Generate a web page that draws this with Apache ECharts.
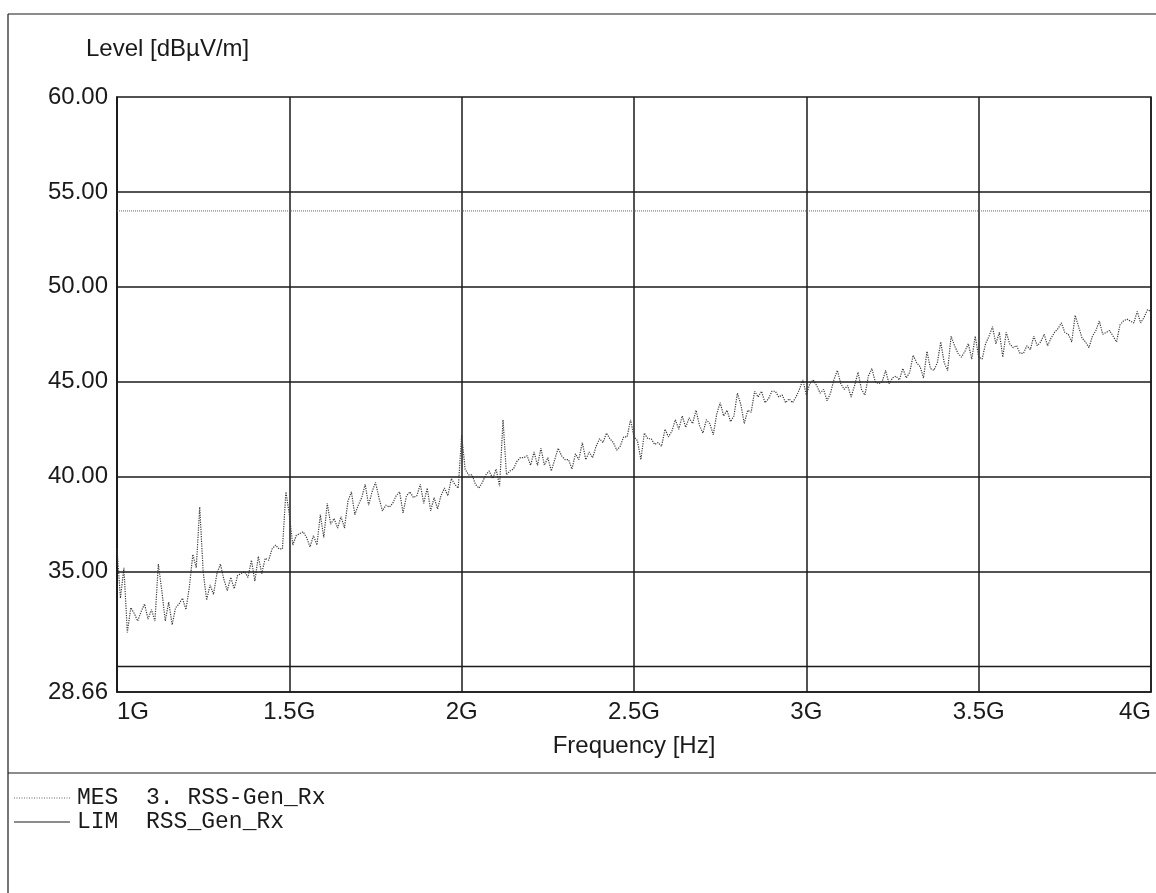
<!DOCTYPE html>
<html>
<head>
<meta charset="utf-8">
<title>RSS-Gen_Rx</title>
<script src="https://cdn.jsdelivr.net/npm/echarts@6/dist/echarts.min.js"></script>
<style>
  html, body { margin: 0; padding: 0; background: #fff; }
  #chart { width: 1156px; height: 893px; }
</style>
</head>
<body>
<div id="chart"></div>
<script>
// MES trace, one reading every 10 MHz from 1 GHz to 4 GHz
const startMHz = 1000
const stepMHz = 10
const mesLevel = [
  36.2, 33.6, 35.2, 31.8, 33.1, 32.8, 32.4, 32.9, 33.3, 32.5,
  33.0, 32.4, 35.4, 34.0, 32.4, 33.4, 32.2, 33.1, 33.3, 33.6,
  33.0, 34.2, 35.9, 35.2, 38.4, 35.0, 33.5, 34.3, 33.8, 34.9,
  35.4, 34.6, 34.0, 34.7, 34.1, 34.8, 34.9, 35.0, 34.7, 35.6,
  34.5, 35.8, 34.9, 35.7, 35.6, 36.2, 36.4, 36.2, 36.2, 39.2,
  38.0, 36.4, 36.9, 37.0, 37.1, 36.8, 36.3, 36.9, 36.4, 38.0,
  36.8, 38.6, 37.5, 37.8, 37.3, 37.9, 37.3, 38.7, 39.2, 38.0,
  38.5, 38.9, 39.6, 38.5, 39.2, 39.7, 38.9, 38.2, 38.5, 38.4,
  38.6, 39.0, 39.2, 38.1, 39.0, 39.2, 38.9, 39.0, 39.6, 38.6,
  39.4, 38.2, 38.9, 38.3, 39.0, 39.4, 39.0, 39.9, 39.6, 39.4,
  42.2, 40.4, 40.1, 40.1, 39.6, 39.4, 39.7, 40.1, 40.3, 39.9,
  40.4, 39.5, 43.0, 40.1, 40.3, 40.4, 40.8, 41.0, 41.0, 41.1,
  40.6, 41.3, 40.6, 41.5, 40.6, 41.0, 40.3, 40.9, 41.5, 41.1,
  40.9, 40.9, 40.4, 41.2, 40.9, 41.8, 40.9, 41.3, 41.0, 41.6,
  42.0, 41.8, 42.3, 42.0, 41.8, 41.4, 41.6, 42.1, 42.1, 43.0,
  42.1, 41.9, 40.9, 42.3, 42.0, 42.0, 41.7, 41.8, 41.6, 42.5,
  42.1, 42.4, 43.0, 42.5, 43.2, 42.6, 43.1, 42.8, 43.5, 42.7,
  42.3, 43.0, 42.8, 42.2, 43.3, 43.9, 43.2, 43.5, 42.9, 43.2,
  44.4, 43.8, 42.8, 43.5, 43.4, 44.5, 44.2, 44.5, 43.9, 44.1,
  44.5, 44.5, 44.2, 44.3, 43.9, 44.1, 43.9, 44.2, 44.6, 45.1,
  44.3, 44.9, 45.1, 44.8, 44.4, 44.6, 44.0, 44.4, 45.1, 45.6,
  44.9, 44.6, 44.8, 44.2, 44.8, 45.5, 44.6, 44.3, 45.3, 45.7,
  45.0, 44.9, 45.0, 45.6, 44.9, 45.2, 45.3, 45.1, 45.7, 45.2,
  45.5, 46.4, 46.0, 45.8, 45.2, 46.6, 45.7, 45.6, 46.0, 47.1,
  46.0, 45.6, 47.4, 46.9, 46.5, 46.3, 46.6, 47.0, 46.2, 47.4,
  46.3, 46.2, 47.0, 47.4, 47.9, 47.0, 47.6, 46.3, 47.6, 47.0,
  46.8, 46.9, 46.5, 46.5, 46.9, 46.7, 47.4, 46.9, 47.1, 47.5,
  46.9, 47.3, 47.6, 47.8, 48.1, 47.6, 47.5, 47.1, 48.5, 47.9,
  47.3, 47.1, 46.8, 47.4, 47.7, 48.2, 47.5, 47.6, 47.7, 47.4,
  47.1, 48.0, 48.2, 48.3, 48.2, 48.1, 48.7, 48.1, 48.4, 48.8, 48.7
]
// limit lines
const limFreq = [1e9, 4e9]
const limLevel = [30, 30]
const upperLevel = [54, 54]
// axes
const yMin = 28.66
const yMax = 60
const yTickLabels = [28.66, 35, 40, 45, 50, 55, 60]
const yGridLevels = [35, 40, 45, 50, 55]

const mesData = mesLevel.map((v, i) => [(startMHz + i * stepMHz) * 1e6, v])
const limData = limFreq.map((f, i) => [f, limLevel[i]])
const upperData = limFreq.map((f, i) => [f, upperLevel[i]])

const sans = '"Liberation Sans", Arial, sans-serif'
const mono = '"Liberation Mono", "Courier New", monospace'
const ink = '#1a1a1a'

const chart = echarts.init(document.getElementById('chart'))
chart.setOption({
  animation: false,
  backgroundColor: '#fff',
  grid: {
    left: 117,
    top: 97,
    right: 5,
    bottom: 201,
    show: true,
    borderColor: ink,
    borderWidth: 1.5
  },
  xAxis: {
    type: 'value',
    min: 1e9,
    max: 4e9,
    interval: 5e8,
    name: 'Frequency [Hz]',
    nameLocation: 'middle',
    nameGap: 42,
    nameTextStyle: { fontFamily: sans, fontSize: 24, color: ink },
    axisLine: { lineStyle: { color: ink, width: 1.5 } },
    axisTick: { show: false },
    axisLabel: {
      margin: 8,
      fontFamily: sans,
      fontSize: 24,
      color: ink,
      alignMinLabel: 'left',
      alignMaxLabel: 'right',
      formatter: v => (v / 1e9) + 'G'
    },
    splitLine: { show: true, lineStyle: { color: ink, width: 1.5 } }
  },
  yAxis: {
    type: 'value',
    min: yMin,
    max: yMax,
    axisLine: { show: true, lineStyle: { color: ink, width: 1.5 } },
    axisTick: { show: false },
    axisLabel: {
      margin: 9,
      fontFamily: sans,
      fontSize: 24,
      color: ink,
      customValues: yTickLabels,
      formatter: v => v.toFixed(2)
    },
    splitLine: { show: false }
  },
  graphic: [
    { type: 'line', shape: { x1: 8, y1: 14, x2: 1156, y2: 14 }, style: { stroke: ink, lineWidth: 1.2 } },
    { type: 'line', shape: { x1: 8, y1: 14, x2: 8, y2: 893 }, style: { stroke: ink, lineWidth: 1.2 } },
    { type: 'line', shape: { x1: 8, y1: 773, x2: 1156, y2: 773 }, style: { stroke: ink, lineWidth: 1.2 } },
    {
      type: 'text', left: 86, top: 37,
      style: { text: 'Level [dBµV/m]', font: '24px ' + sans, fill: ink }
    },
    { type: 'line', shape: { x1: 14, y1: 798, x2: 70, y2: 798 }, style: { stroke: '#666', lineWidth: 1, lineDash: [1, 1.5] } },
    {
      type: 'text', left: 77, top: 786,
      style: { text: 'MES  3. RSS-Gen_Rx', font: '23px ' + mono, fill: ink }
    },
    { type: 'line', shape: { x1: 14, y1: 822, x2: 70, y2: 822 }, style: { stroke: ink, lineWidth: 1.2 } },
    {
      type: 'text', left: 77, top: 810,
      style: { text: 'LIM  RSS_Gen_Rx', font: '23px ' + mono, fill: ink }
    }
  ],
  series: [
    {
      name: 'LIM',
      type: 'line',
      data: limData,
      symbol: 'none',
      silent: true,
      lineStyle: { color: ink, width: 1.5 },
      markLine: {
        silent: true,
        symbol: 'none',
        label: { show: false },
        lineStyle: { color: ink, width: 1.5, type: 'solid' },
        data: yGridLevels.map(v => ({ yAxis: v }))
      }
    },
    {
      name: 'LIM upper',
      type: 'line',
      data: upperData,
      symbol: 'none',
      silent: true,
      lineStyle: { color: '#666', width: 1, type: 'dotted' }
    },
    {
      name: 'MES',
      type: 'line',
      data: mesData,
      symbol: 'none',
      silent: true,
      lineStyle: { color: '#3a3a3a', width: 1.2, type: 'dotted' }
    }
  ]
})
</script>
</body>
</html>
